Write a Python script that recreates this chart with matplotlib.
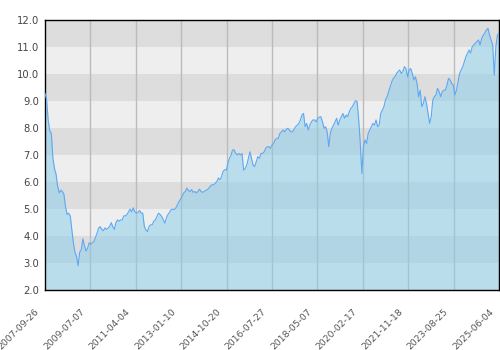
import numpy as np
import matplotlib
matplotlib.use("Agg")
import matplotlib.pyplot as plt
from matplotlib.transforms import ScaledTranslation

tick_labels = ["2007-09-26", "2009-07-07", "2011-04-04", "2013-01-10", "2014-10-20",
               "2016-07-27", "2018-05-07", "2020-02-17", "2021-11-18", "2023-08-25",
               "2025-06-04"]

seg1 = [9.28, 9.06, 8.3, 7.9, 7.8, 6.9, 6.5, 6.3, 5.85, 5.6, 5.7, 5.65, 5.55, 5.1, 4.8,
        4.85, 4.75, 4.25, 3.75, 3.4, 3.25, 2.9, 3.4, 3.5, 3.9, 3.65, 3.45, 3.55, 3.75, 3.7,
        3.75, 3.8, 3.95, 4.1, 4.3, 4.35, 4.25, 4.2, 4.3, 4.25, 4.3, 4.35, 4.5, 4.35, 4.25,
        4.5, 4.6, 4.55, 4.6, 4.6, 4.75, 4.75, 4.8, 4.9, 5.0, 4.9, 5.05, 4.9, 4.85, 4.88]
seg2 = [4.95, 4.85, 4.85, 4.36, 4.23, 4.17, 4.36, 4.42, 4.42, 4.55, 4.6, 4.73, 4.85, 4.8,
        4.73, 4.6, 4.48, 4.67, 4.8, 4.88, 4.98, 5.0, 4.98, 5.04, 5.16, 5.28, 5.37, 5.47,
        5.6, 5.65, 5.78, 5.69, 5.65, 5.72, 5.62, 5.65, 5.6, 5.65, 5.74, 5.65, 5.62, 5.65,
        5.69, 5.72, 5.78, 5.86, 5.9, 5.9, 5.96, 6.02, 6.15, 6.09, 6.2, 6.4, 6.46]
seg3 = [6.44, 6.69, 6.88, 7.0, 7.19, 7.19, 7.06, 7.0, 7.06, 7.0, 7.06, 6.44, 6.5, 6.63,
        6.88, 7.12, 6.88, 6.63, 6.57, 6.75, 6.94, 6.88, 7.06, 7.06, 7.12, 7.25, 7.31, 7.31,
        7.25, 7.37, 7.43, 7.56, 7.62, 7.62, 7.8, 7.86, 7.93, 7.86, 7.95, 7.99, 7.93, 7.86,
        7.86, 7.95, 8.05, 8.11, 8.17, 8.3, 8.48, 8.54, 8.05, 8.17, 7.93, 8.11, 8.23, 8.3]
seg4 = [8.3, 8.23, 8.36, 8.4, 8.42, 8.23, 7.99, 8.05, 7.86, 7.31, 7.8, 7.99, 8.11, 8.23,
        8.36, 8.11, 8.3, 8.42, 8.54, 8.36, 8.48, 8.42, 8.6, 8.73, 8.79, 8.91, 9.01, 8.98,
        8.3, 7.43, 6.32, 7.31, 7.56, 7.43, 7.8, 7.93, 8.05, 8.17, 8.11, 8.3, 8.05, 8.11,
        8.54, 8.67, 8.79, 9.04, 9.16, 9.35, 9.53, 9.72, 9.84, 9.9, 10.02, 10.09, 10.15,
        10.02, 10.09, 10.27, 10.2, 9.9]
seg5 = [10.15, 10.2, 10.02, 9.78, 9.9, 9.65, 9.16, 9.4, 8.79, 8.91, 9.16, 8.91, 8.54,
        8.17, 8.42, 9.04, 9.16, 9.22, 9.47, 9.35, 9.16, 9.35, 9.4, 9.4, 9.59, 9.84, 9.78,
        9.65, 9.59, 9.22, 9.4, 9.72, 10.02, 10.15, 10.27, 10.46, 10.64, 10.77, 10.89,
        10.77, 11.01, 11.07, 11.14, 11.2, 11.26, 11.07, 11.32, 11.44, 11.51, 11.63, 11.69,
        11.44, 11.26, 11.07, 9.96, 11.01, 11.44, 11.51]

values = seg1 + seg2 + seg3 + seg4 + seg5
y_min, y_max = 2.0, 12.0

fig = plt.figure(figsize=(5, 3.5), dpi=100)
ax = fig.add_axes([0.09, 0.171, 0.908, 0.772])

n = len(values)
x = np.arange(n)

# alternating bands
for lo in np.arange(y_min, y_max, 1.0):
    col = "#dddddd" if int(lo) % 2 == 1 else "#eeeeee"
    ax.axhspan(lo, lo + 1, color=col, lw=0, zorder=0)

ticks = np.linspace(0, n - 1, len(tick_labels))
for t in ticks[1:-1]:
    ax.axvline(t, color="#bbbbbb", lw=1, zorder=1)

ax.fill_between(x, values, y_min, color=(135/255, 206/255, 235/255), alpha=0.5, lw=0, zorder=2)
ax.plot(x, values, color="#5ea8f2", lw=0.8, zorder=3)

ax.set_xlim(0, n - 1)
ax.set_ylim(y_min, y_max)
ax.set_yticks(np.arange(y_min, y_max + 0.1, 1.0))
ax.set_yticklabels([f"{v:.1f}" for v in np.arange(y_min, y_max + 0.1, 1.0)])
ax.set_xticks(ticks)
ax.set_xticklabels(tick_labels, rotation=45, ha="right", va="center", rotation_mode="anchor")
ax.tick_params(axis="y", length=0, labelsize=7.2, colors="#444444", pad=4)
ax.tick_params(axis="x", length=0, labelsize=6.7, colors="#555555", pad=14.4)
shift = ScaledTranslation(-7 / 100, 0, fig.dpi_scale_trans)
for lab in ax.get_xticklabels():
    lab.set_transform(lab.get_transform() + shift)
for s in ax.spines.values():
    s.set_color("black")
    s.set_linewidth(1)

fig.savefig("out.png", dpi=100)
